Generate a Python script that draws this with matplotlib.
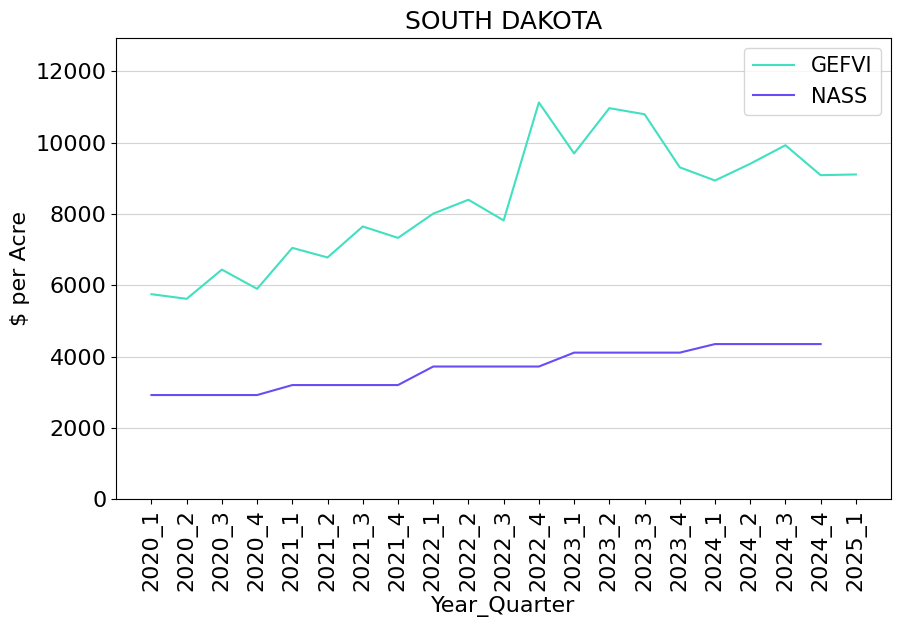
import matplotlib
matplotlib.use("Agg")
import matplotlib.pyplot as plt

quarters = ["2020_1", "2020_2", "2020_3", "2020_4",
            "2021_1", "2021_2", "2021_3", "2021_4",
            "2022_1", "2022_2", "2022_3", "2022_4",
            "2023_1", "2023_2", "2023_3", "2023_4",
            "2024_1", "2024_2", "2024_3", "2024_4",
            "2025_1"]
gefvi = [5750, 5620, 6440, 5900, 7050, 6780, 7650, 7330,
         8010, 8400, 7820, 11130, 9700, 10970, 10800, 9310,
         8940, 9410, 9930, 9090, 9110]
nass = [2920, 2920, 2920, 2920, 3200, 3200, 3200, 3200,
        3720, 3720, 3720, 3720, 4110, 4110, 4110, 4110,
        4350, 4350, 4350, 4350]

plt.rcParams['font.size'] = 16
fig, ax = plt.subplots(figsize=(9.01, 6.27), dpi=100)
ax.plot(quarters, gefvi, color='#40E0C0', label='GEFVI')
ax.plot(quarters[:len(nass)], nass, color='#6A4BF5', label='NASS')
ax.set_ylim(0, 12950)
ax.yaxis.grid(True, color='lightgray')
ax.set_axisbelow(True)
ax.set_title("SOUTH DAKOTA", fontsize=18)
ax.set_xlabel("Year_Quarter")
ax.set_ylabel("$ per Acre")
plt.xticks(rotation=90)
ax.legend(loc='upper right', fontsize=15)
fig.subplots_adjust(left=0.129, right=0.989, top=0.94, bottom=0.204)
fig.savefig("out.png", dpi=100)
